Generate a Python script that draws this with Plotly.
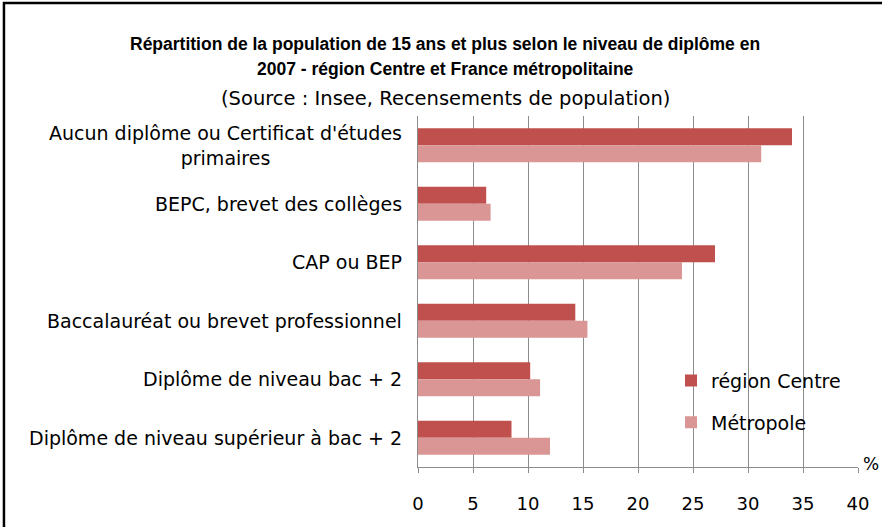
import plotly.graph_objects as go

categories = [
    "Aucun diplôme ou Certificat d'études<br>primaires",
    "BEPC, brevet des collèges",
    "CAP ou BEP",
    "Baccalauréat ou brevet professionnel",
    "Diplôme de niveau bac + 2",
    "Diplôme de niveau supérieur à bac + 2",
]
region_centre = [34.0, 6.2, 27.0, 14.3, 10.2, 8.5]
metropole = [31.2, 6.6, 24.0, 15.4, 11.1, 12.0]
x_ticks = [0, 5, 10, 15, 20, 25, 30, 35, 40]

FONT = "DejaVu Sans"
TFONT = "Liberation Sans"

fig = go.Figure()
fig.add_trace(go.Bar(y=categories, x=region_centre, orientation="h", name="région Centre",
                     marker=dict(color="#C0504D", line=dict(width=0)), legendgroup="a"))
fig.add_trace(go.Bar(y=categories, x=metropole, orientation="h", name="Métropole",
                     marker=dict(color="#D99694", line=dict(width=0)), legendgroup="b"))

annotations = []
for c in categories:
    annotations.append(dict(x=0, xref="paper", y=c, yref="y", text=c, showarrow=False,
                            xanchor="right", xshift=-14, align="center",
                            font=dict(family=FONT, size=19, color="#000")))
annotations.append(dict(x=1, xref="paper", y=0, yref="paper", text="%", showarrow=False,
                        xanchor="left", yanchor="bottom", xshift=3, yshift=-9,
                        font=dict(family=FONT, size=17, color="#000")))
annotations.append(dict(x=0.062, xref="paper", y=1.0, yref="paper", xanchor="center", yanchor="bottom",
                        text="<b>Répartition de la population de 15 ans et plus selon le niveau de diplôme en</b>",
                        showarrow=False, yshift=60, font=dict(family=TFONT, size=17.5, color="#000")))
annotations.append(dict(x=0.062, xref="paper", y=1.0, yref="paper", xanchor="center", yanchor="bottom",
                        text="<b>2007 - région Centre et France métropolitaine</b>",
                        showarrow=False, yshift=35, font=dict(family=TFONT, size=17.5, color="#000")))
annotations.append(dict(x=0.062, xref="paper", y=1.0, yref="paper", xanchor="center", yanchor="bottom",
                        text="(Source : Insee, Recensements de population)",
                        showarrow=False, yshift=4, font=dict(family=FONT, size=19.5, color="#000")))

fig.update_layout(
    width=882, height=527,
    margin=dict(l=418, r=24, t=116, b=60),
    paper_bgcolor="white", plot_bgcolor="white",
    barmode="group", bargap=0.42, bargroupgap=0,
    showlegend=True,
    legend=dict(x=0.575, y=0.30, xanchor="left", yanchor="top", traceorder="grouped",
                tracegroupgap=14, font=dict(family=FONT, size=19, color="#000"),
                bgcolor="rgba(0,0,0,0)"),
    annotations=annotations,
    shapes=[dict(type="rect", xref="paper", yref="paper", x0=-0.941, x1=1.2, y0=-0.4, y1=1.322,
                 line=dict(color="black", width=2.5), fillcolor="rgba(0,0,0,0)", layer="below")],
)
fig.update_xaxes(range=[0, 40], tickvals=x_ticks, ticktext=[str(v) for v in x_ticks],
                 showgrid=True, gridcolor="#8c8c8c", gridwidth=1,
                 showline=True, linecolor="#8c8c8c", linewidth=1,
                 ticks="outside", ticklen=5, tickcolor="#8c8c8c", ticklabelstandoff=15,
                 tickfont=dict(family=FONT, size=18, color="#000"), zeroline=False)
fig.update_yaxes(autorange="reversed", showticklabels=False, showgrid=False,
                 showline=True, linecolor="#8c8c8c", linewidth=1, ticks="")

fig.write_html("out.html", config={"displayModeBar": False},
               post_script="document.body.style.margin='0';")
